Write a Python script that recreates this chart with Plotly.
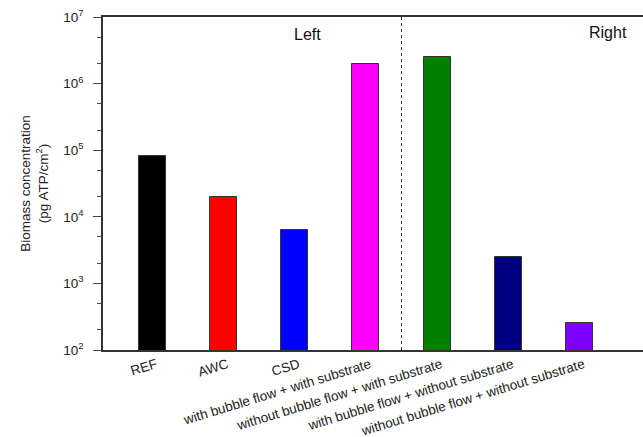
import plotly.graph_objects as go

categories = ["REF", "AWC", "CSD",
              "with bubble flow + with substrate",
              "without bubble flow + with substrate",
              "with bubble flow + without substrate",
              "without bubble flow + without substrate"]
values = [80500, 20000, 6250, 2.0e6, 2.55e6, 2.46e3, 252]
colors = ["#000000", "#ff0000", "#0000ff", "#ff00ff", "#008000", "#000080", "#8000ff"]
ytick_vals = [1e2, 1e3, 1e4, 1e5, 1e6, 1e7]
ytick_text = ["10<sup>2</sup>", "10<sup>3</sup>", "10<sup>4</sup>",
              "10<sup>5</sup>", "10<sup>6</sup>", "10<sup>7</sup>"]

font = "Liberation Sans, Arial, sans-serif"

fig = go.Figure(go.Bar(
    x=categories, y=values, width=0.38,
    marker=dict(color=colors, line=dict(color="#333333", width=1)),
))

fig.update_layout(
    width=643, height=437,
    margin=dict(l=103, r=0, t=17, b=87),
    plot_bgcolor="white", paper_bgcolor="white",
    font=dict(family=font, color="#222222", size=12),
    showlegend=False,
    bargap=0,
)
fig.update_xaxes(
    range=[-0.69, 6.89], showline=True, linecolor="#333333", linewidth=1.5,
    mirror=True, ticks="", tickangle=-17, tickfont=dict(size=13.5),
    ticklabelshift=4,
    showgrid=False, automargin=False,
)
fig.update_yaxes(
    type="log", range=[2, 7], showline=True, linecolor="#333333", linewidth=1.5,
    ticks="outside", ticklen=8, tickvals=ytick_vals, ticktext=ytick_text,
    tickfont=dict(size=13.5), showgrid=False, automargin=False,
    ticklabelstandoff=7,
    minor=dict(ticks="outside", ticklen=4, tickcolor="#555555", showgrid=False),
    title=dict(text="Biomass concentration<br>(pg ATP/cm<sup>2</sup>)",
               font=dict(size=13.5), standoff=12),
)
fig.add_shape(type="line", xref="x", yref="paper", x0=3.5, x1=3.5, y0=0, y1=1,
              line=dict(color="#333333", width=1, dash="dot"))
fig.add_annotation(text="Left", xref="paper", yref="paper", x=0.378, y=0.946,
                   xanchor="center", yanchor="middle",
                   showarrow=False, font=dict(size=16, color="#111111"))
fig.add_annotation(text="Right", xref="paper", yref="paper", x=0.935, y=0.952,
                   xanchor="center", yanchor="middle",
                   showarrow=False, font=dict(size=16, color="#111111"))

fig.write_html("out.html", config={"displayModeBar": False},
               post_script="document.body.style.margin='0';document.body.style.overflow='hidden';")
